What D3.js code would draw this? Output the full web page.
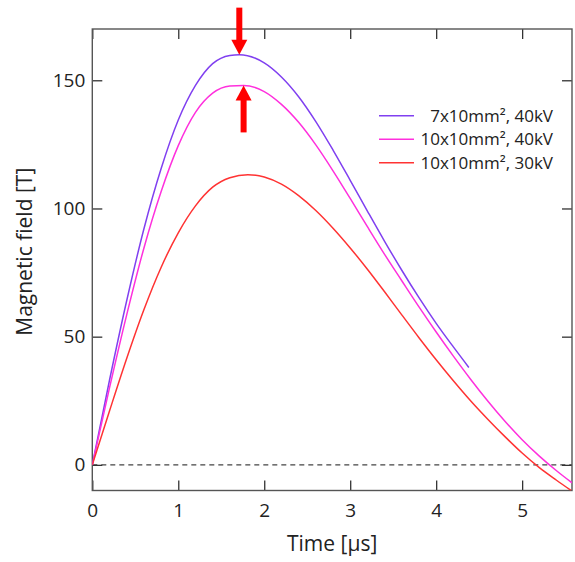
<!DOCTYPE html>
<html>
<head>
<meta charset="utf-8">
<script src="https://cdn.jsdelivr.net/npm/d3@7/dist/d3.min.js"></script>
<style>
  body { margin: 0; background: #fff; }
  svg text { font-family: "Open Sans", "Noto Sans", sans-serif; fill: #222; }
</style>
</head>
<body>
<svg id="chart" width="575" height="562"></svg>
<script>
// time in microseconds, field in tesla
var seriesNames = ["7x10mm\u00b2, 40kV", "10x10mm\u00b2, 40kV", "10x10mm\u00b2, 30kV"];
var seriesColors = ["#8040f0", "#ff30dd", "#ff3333"];

var timeA  = [0, 0.2, 0.4, 0.6, 0.8, 1.0, 1.2, 1.4, 1.6, 1.71, 2.0, 2.2, 2.4, 2.6, 2.8, 3.0, 3.2, 3.4, 3.6, 3.8, 4.0, 4.2, 4.38];
var fieldA = [0, 33, 64, 92, 115.5, 134.5, 148, 156.5, 159.7, 160, 156.8, 151.3, 143.6, 133.9, 122.8, 111, 99, 87.2, 75.9, 65.2, 55.2, 46, 38];

var timeB  = [0, 0.2, 0.4, 0.6, 0.8, 1.0, 1.2, 1.4, 1.6, 1.76, 2.0, 2.2, 2.4, 2.6, 2.8, 3.0, 3.2, 3.4, 3.6, 3.8, 4.0, 4.2, 4.4, 4.6, 4.8, 5.0, 5.2, 5.4, 5.58];
var fieldB = [0, 30, 58.5, 84.5, 106.5, 124.5, 137.5, 145, 147.8, 148, 145.6, 140.6, 133.6, 124.8, 114.7, 103.9, 92.9, 82.1, 71.8, 61.6, 51.8, 42.4, 33.4, 24.9, 17, 9.8, 3.4, -2.3, -7];

var timeC  = [0, 0.2, 0.4, 0.6, 0.8, 1.0, 1.2, 1.4, 1.6, 1.81, 2.0, 2.2, 2.4, 2.6, 2.8, 3.0, 3.2, 3.4, 3.6, 3.8, 4.0, 4.2, 4.4, 4.6, 4.8, 5.0, 5.2, 5.4, 5.57];
var fieldC = [0, 21, 41.5, 60.5, 77, 90.5, 101, 108.3, 112, 113.2, 112.3, 109.5, 105, 99.2, 92.3, 84.6, 76.3, 67.5, 58.5, 49.6, 41, 32.8, 25, 17.8, 11, 4.6, -1.1, -6, -10];

var xTicks = [0, 1, 2, 3, 4, 5];
var yTicks = [0, 50, 100, 150];

// arrows mark the two peaks: [time, field, direction]
var peakArrows = [[1.71, 160, "down"], [1.76, 148, "up"]];

var svg = d3.select("svg#chart");
var mLeft = 92.3, mRight = 572, mTop = 29, mBottom = 490.5;

var x = d3.scaleLinear().domain([0, 5.58]).range([mLeft, mRight]);
var y = d3.scaleLinear().domain([-10, 170]).range([mBottom, mTop]);

svg.append("defs").append("clipPath").attr("id", "plotclip")
  .append("rect")
  .attr("x", mLeft).attr("y", mTop)
  .attr("width", mRight - mLeft).attr("height", mBottom - mTop);

// zero line
svg.append("line")
  .attr("x1", mLeft).attr("x2", mRight)
  .attr("y1", y(0)).attr("y2", y(0))
  .attr("stroke", "#444").attr("stroke-width", 1.2)
  .attr("stroke-dasharray", "5,4");

// axes with inner ticks
var fmt = d3.format("d");
function styleAxis(g) {
  g.select(".domain").remove();
  g.selectAll(".tick line").attr("stroke", "#333").attr("stroke-width", 1.3);
  g.selectAll(".tick text").style("font-size", "19px").attr("fill", "#222");
}
svg.append("g").attr("transform", "translate(0," + mBottom + ")")
  .call(d3.axisBottom(x).tickValues(xTicks).tickFormat(fmt).tickSizeInner(-10).tickSizeOuter(0).tickPadding(13))
  .call(styleAxis);
svg.append("g").attr("transform", "translate(0," + mTop + ")")
  .call(d3.axisTop(x).tickValues(xTicks).tickFormat("").tickSizeInner(-10).tickSizeOuter(0))
  .call(styleAxis);
svg.append("g").attr("transform", "translate(" + mLeft + ",0)")
  .call(d3.axisLeft(y).tickValues(yTicks).tickFormat(fmt).tickSizeInner(-10).tickSizeOuter(0).tickPadding(7))
  .call(styleAxis);
svg.append("g").attr("transform", "translate(" + mRight + ",0)")
  .call(d3.axisRight(y).tickValues(yTicks).tickFormat("").tickSizeInner(-10).tickSizeOuter(0))
  .call(styleAxis);

// frame
svg.append("rect")
  .attr("x", mLeft).attr("y", mTop)
  .attr("width", mRight - mLeft).attr("height", mBottom - mTop)
  .attr("fill", "none").attr("stroke", "#555").attr("stroke-width", 1.4);

// curves
var series = [
  { t: timeA, b: fieldA },
  { t: timeB, b: fieldB },
  { t: timeC, b: fieldC }
];
var line = d3.line()
  .x(function(d) { return x(d[0]); })
  .y(function(d) { return y(d[1]); })
  .curve(d3.curveMonotoneX);

var plot = svg.append("g").attr("clip-path", "url(#plotclip)");
series.forEach(function(s, i) {
  var pts = s.t.map(function(t, j) { return [t, s.b[j]]; });
  plot.append("path")
    .datum(pts)
    .attr("d", line)
    .attr("fill", "none")
    .attr("stroke", seriesColors[i])
    .attr("stroke-width", 1.5);
});

// red arrows
peakArrows.forEach(function(a) {
  var px = x(a[0]), py = y(a[1]);
  var s = a[2] === "down" ? -1 : 1;   // direction away from the tip
  svg.append("rect")
    .attr("x", px - 3).attr("width", 6)
    .attr("y", s < 0 ? py - 47 : py + 13).attr("height", 34)
    .attr("fill", "#ff0000");
  svg.append("path")
    .attr("d", "M" + px + "," + py + "L" + (px - 8) + "," + (py + s * 15) + "L" + (px + 8) + "," + (py + s * 15) + "Z")
    .attr("fill", "#ff0000");
});

// legend
var legend = svg.append("g");
seriesNames.forEach(function(name, i) {
  var ly = 115.7 + i * 23.5;
  legend.append("line")
    .attr("x1", 379).attr("x2", 414)
    .attr("y1", ly).attr("y2", ly)
    .attr("stroke", seriesColors[i]).attr("stroke-width", 1.5);
  legend.append("text")
    .attr("x", 553).attr("y", ly)
    .attr("dy", "0.35em")
    .attr("text-anchor", "end")
    .style("font-size", "17px")
    .text(name);
});

// axis titles
svg.append("text")
  .attr("x", (mLeft + mRight) / 2).attr("y", 551)
  .attr("text-anchor", "middle")
  .style("font-size", "21px")
  .text("Time [\u03bcs]");

svg.append("text")
  .attr("transform", "translate(32," + ((mTop + mBottom) / 2 - 8) + ") rotate(-90)")
  .attr("text-anchor", "middle")
  .style("font-size", "21px")
  .text("Magnetic field [T]");
</script>
</body>
</html>
